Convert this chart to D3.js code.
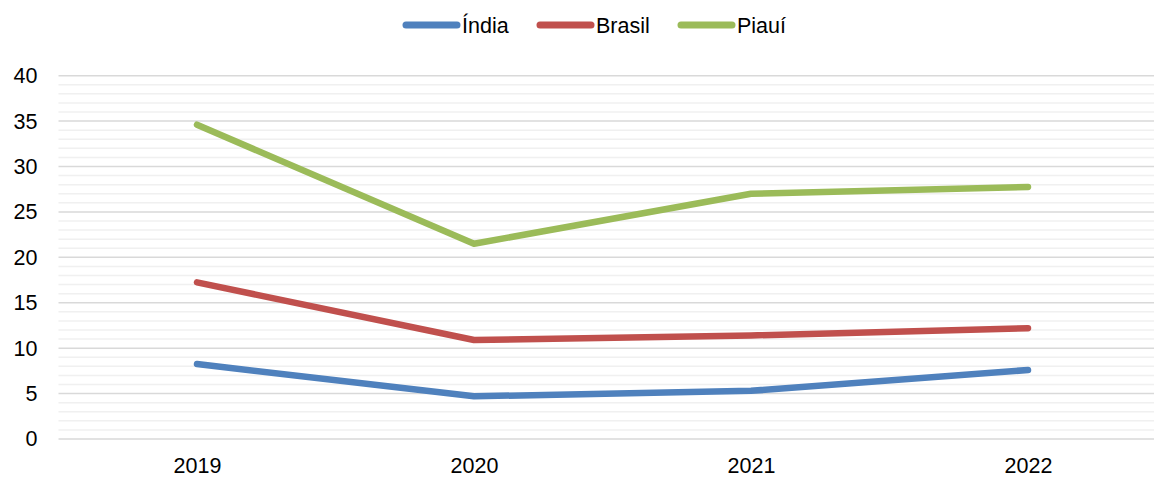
<!DOCTYPE html>
<html>
<head>
<meta charset="utf-8">
<script src="https://cdn.jsdelivr.net/npm/d3@7"></script>
<style>
  html, body { margin: 0; padding: 0; background: #ffffff; }
  svg { display: block; font-family: "Liberation Sans", Arial, sans-serif; }
</style>
</head>
<body>
<svg id="chart" width="1154" height="478"></svg>
<script>
// Years on the category axis
const years = ["2019", "2020", "2021", "2022"];
// Series values
const india = [8.25, 4.7, 5.3, 7.6];
const brasil = [17.25, 10.9, 11.4, 12.2];
const piaui = [34.6, 21.5, 27.0, 27.75];
// Value axis ticks
const yTicks = [0, 5, 10, 15, 20, 25, 30, 35, 40];
const seriesNames = ["Índia", "Brasil", "Piauí"];
const seriesColors = ["#4f81bd", "#c0504d", "#9bbb59"];

const series = [india, brasil, piaui].map((values, i) => ({
  name: seriesNames[i], color: seriesColors[i], values
}));

const svg = d3.select("#chart");
const W = 1154, H = 478;
const FONT = 21.5;
const plot = { left: 58.5, right: 1166.5, top: 75.7, bottom: 439 };

const x = d3.scalePoint().domain(years).range([plot.left, plot.right]).padding(0.5);
const y = d3.scaleLinear().domain([0, 40]).range([plot.bottom, plot.top]);

// Minor gridlines (every 1 unit)
const minor = d3.range(0, 41).filter(v => v % 5 !== 0);
svg.append("g").selectAll("line").data(minor).join("line")
  .attr("x1", plot.left).attr("x2", W)
  .attr("y1", d => y(d)).attr("y2", d => y(d))
  .attr("stroke", "#f0f0f0").attr("stroke-width", 1.5);

// Major gridlines and value-axis labels
const yAxis = d3.axisLeft(y).tickValues(yTicks).tickSize(0).tickPadding(21);
const gy = svg.append("g").attr("transform", `translate(${plot.left},0)`).call(yAxis);
gy.select(".domain").remove();
gy.selectAll("text").attr("font-size", FONT).attr("fill", "#000")
  .attr("font-family", "Liberation Sans, Arial, sans-serif");
svg.append("g").selectAll("line").data(yTicks).join("line")
  .attr("x1", plot.left).attr("x2", W)
  .attr("y1", d => y(d)).attr("y2", d => y(d))
  .attr("stroke", "#d9d9d9").attr("stroke-width", 1.5);

// Category axis labels
const xAxis = d3.axisBottom(x).tickSize(0).tickPadding(19);
const gx = svg.append("g").attr("transform", `translate(0,${plot.bottom})`).call(xAxis);
gx.select(".domain").remove();
gx.selectAll("text").attr("font-size", FONT).attr("fill", "#000")
  .attr("font-family", "Liberation Sans, Arial, sans-serif");

// Series lines
const line = d3.line().x((d, i) => x(years[i])).y(d => y(d));
svg.append("g").selectAll("path").data(series).join("path")
  .attr("d", d => line(d.values))
  .attr("fill", "none")
  .attr("stroke", d => d.color)
  .attr("stroke-width", 6.5)
  .attr("stroke-linecap", "round")
  .attr("stroke-linejoin", "round");

// Legend
const legendX = [406, 540, 681];
const lg = svg.append("g").selectAll("g").data(series).join("g")
  .attr("transform", (d, i) => `translate(${legendX[i]},25)`);
lg.append("line")
  .attr("x1", 0).attr("x2", 51).attr("y1", 0).attr("y2", 0)
  .attr("stroke", d => d.color).attr("stroke-width", 7)
  .attr("stroke-linecap", "round");
lg.append("text")
  .attr("x", 56).attr("y", 7.5)
  .attr("font-size", FONT).attr("fill", "#000")
  .text(d => d.name);
</script>
</body>
</html>
